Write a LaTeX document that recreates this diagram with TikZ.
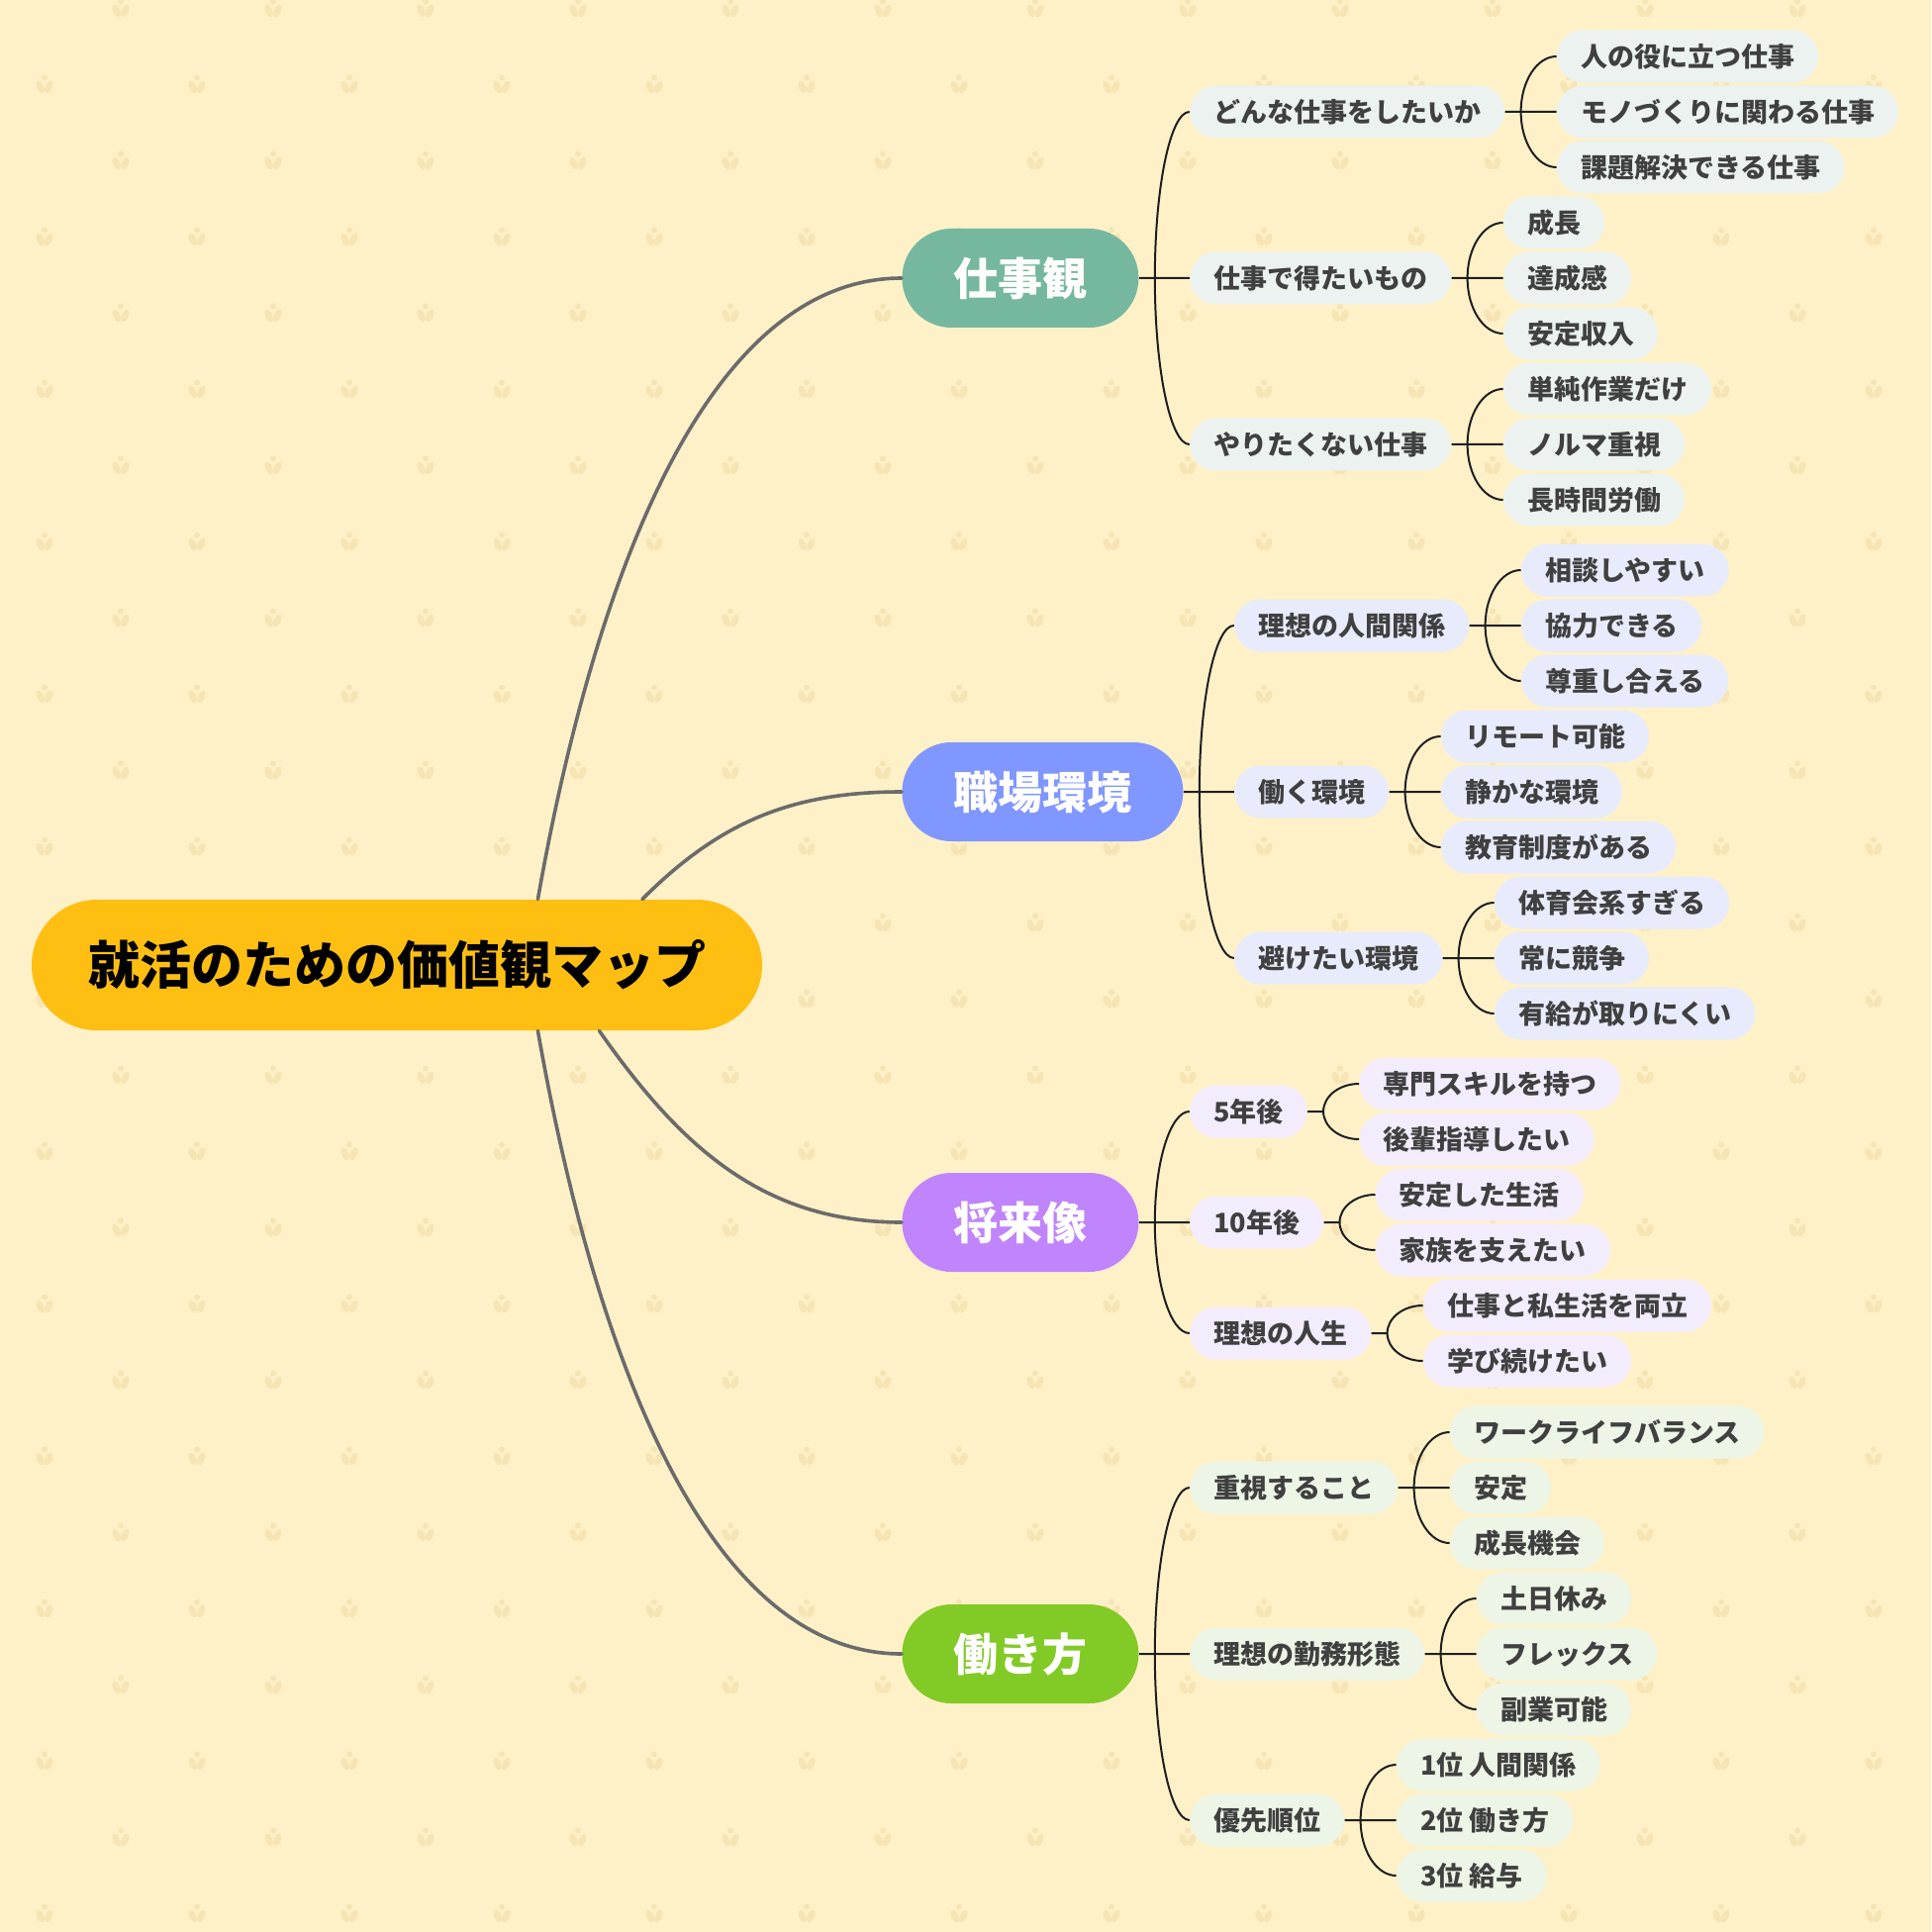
\documentclass[tikz,border=0pt]{standalone}
\usepackage{fontspec}
\setmainfont{Noto Sans CJK JP}
\usetikzlibrary{positioning,calc}

\definecolor{paper}{HTML}{FEF1C8}
\definecolor{tulipcol}{HTML}{F7E4B4}
\definecolor{rootfill}{HTML}{FFBF12}
\definecolor{jobfill}{HTML}{76B89F}
\definecolor{placefill}{HTML}{8097FF}
\definecolor{futurefill}{HTML}{C084FC}
\definecolor{wayfill}{HTML}{82CA26}
\definecolor{jobleaf}{HTML}{EBF2EF}
\definecolor{placeleaf}{HTML}{E8EBFB}
\definecolor{futureleaf}{HTML}{F3ECFD}
\definecolor{wayleaf}{HTML}{EDF5E6}
\definecolor{itemtext}{HTML}{404040}
\definecolor{trunkgray}{HTML}{6B6B6B}
\definecolor{twigblack}{HTML}{1E1E1E}

\begin{document}
\begin{tikzpicture}[
  x=0.5pt, y=-0.5pt,
  node distance=26pt,
  root/.style={
    fill=rootfill,
    rounded corners=33pt,
    minimum height=66pt,
    inner xsep=28.5pt, inner ysep=0pt,
    text=black,
    text height=22.9pt, text depth=3.1pt,
    font=\bfseries\fontsize{26}{30}\selectfont
  },
  topic/.style={
    rounded corners=25pt,
    minimum height=50pt,
    inner xsep=26pt, inner ysep=0pt,
    text=white,
    text height=19.8pt, text depth=2.7pt,
    font=\bfseries\fontsize{22.5}{26}\selectfont,
    anchor=west
  },
  item/.style={
    rounded corners=13.25pt,
    minimum height=26.5pt,
    inner xsep=12pt, inner ysep=0pt,
    text=itemtext,
    text height=11.9pt, text depth=1.6pt,
    font=\bfseries\fontsize{13.5}{16}\selectfont
  },
  trunk/.style={draw=trunkgray, line width=1.8pt, line cap=round},
  twig/.style={draw=twigblack, line width=1pt},
  fork/.style={to path={.. controls ($(\tikztostart)!0.55!(\tikztostart|-\tikztotarget)$)
    and ($(\tikztotarget)!0.55!(\tikztostart|-\tikztotarget)$) .. (\tikztotarget)}},
  tulip/.pic={
    \fill[tulipcol] (0,-6.5) circle (1.5pt);
    \fill[tulipcol, rotate around={24:(-4.3,3)}] (-4.3,3) ellipse (1.75pt and 3.3pt);
    \fill[tulipcol, rotate around={-24:(4.3,3)}] (4.3,3) ellipse (1.75pt and 3.3pt);
  }
]

% paper and tulip pattern
\useasboundingbox (0,0) rectangle (1951,1952);
\fill[paper] (0,0) rectangle (1951,1952);
\begin{scope}
  \clip (0,0) rectangle (1951,1952);
  \foreach \yy in {8,162,...,1900}
    \foreach \xx in {-32,122,...,1970}
      \pic at (\xx,\yy) {tulip};
  \foreach \yy in {85,239,...,1940}
    \foreach \xx in {45,199,...,1900}
      \pic at (\xx,\yy) {tulip};
\end{scope}

\node[root] (map) at (401,975) {就活のための価値観マップ};

\node[topic, fill=jobfill] (job) at (911,281) {仕事観};
\node[topic, fill=placefill] (place) at (911,800) {職場環境};
\node[topic, fill=futurefill] (future) at (911,1235) {将来像};
\node[topic, fill=wayfill] (way) at (911,1671) {働き方};

% 仕事観
\node[item, fill=jobleaf, right=25.5pt of job, yshift=84pt] (job1) {どんな仕事をしたいか};
\node[item, fill=jobleaf, right=25.5pt of job] (job2) {仕事で得たいもの};
\node[item, fill=jobleaf, right=25.5pt of job, yshift=-84pt] (job3) {やりたくない仕事};

\node[item, fill=jobleaf, right=of job1, yshift=28pt] (job1a) {人の役に立つ仕事};
\node[item, fill=jobleaf, right=of job1] (job1b) {モノづくりに関わる仕事};
\node[item, fill=jobleaf, right=of job1, yshift=-28pt] (job1c) {課題解決できる仕事};
\node[item, fill=jobleaf, right=of job2, yshift=28pt] (job2a) {成長};
\node[item, fill=jobleaf, right=of job2] (job2b) {達成感};
\node[item, fill=jobleaf, right=of job2, yshift=-28pt] (job2c) {安定収入};
\node[item, fill=jobleaf, right=of job3, yshift=28pt] (job3a) {単純作業だけ};
\node[item, fill=jobleaf, right=of job3] (job3b) {ノルマ重視};
\node[item, fill=jobleaf, right=of job3, yshift=-28pt] (job3c) {長時間労働};

% 職場環境
\node[item, fill=placeleaf, right=25.5pt of place, yshift=84pt] (place1) {理想の人間関係};
\node[item, fill=placeleaf, right=25.5pt of place] (place2) {働く環境};
\node[item, fill=placeleaf, right=25.5pt of place, yshift=-84pt] (place3) {避けたい環境};

\node[item, fill=placeleaf, right=of place1, yshift=28pt] (place1a) {相談しやすい};
\node[item, fill=placeleaf, right=of place1] (place1b) {協力できる};
\node[item, fill=placeleaf, right=of place1, yshift=-28pt] (place1c) {尊重し合える};
\node[item, fill=placeleaf, right=of place2, yshift=28pt] (place2a) {リモート可能};
\node[item, fill=placeleaf, right=of place2] (place2b) {静かな環境};
\node[item, fill=placeleaf, right=of place2, yshift=-28pt] (place2c) {教育制度がある};
\node[item, fill=placeleaf, right=of place3, yshift=28pt] (place3a) {体育会系すぎる};
\node[item, fill=placeleaf, right=of place3] (place3b) {常に競争};
\node[item, fill=placeleaf, right=of place3, yshift=-28pt] (place3c) {有給が取りにくい};

% 将来像
\node[item, fill=futureleaf, right=25.5pt of future, yshift=56pt] (future1) {5年後};
\node[item, fill=futureleaf, right=25.5pt of future] (future2) {10年後};
\node[item, fill=futureleaf, right=25.5pt of future, yshift=-56pt] (future3) {理想の人生};

\node[item, fill=futureleaf, right=of future1, yshift=14pt] (future1a) {専門スキルを持つ};
\node[item, fill=futureleaf, right=of future1, yshift=-14pt] (future1b) {後輩指導したい};
\node[item, fill=futureleaf, right=of future2, yshift=14pt] (future2a) {安定した生活};
\node[item, fill=futureleaf, right=of future2, yshift=-14pt] (future2b) {家族を支えたい};
\node[item, fill=futureleaf, right=of future3, yshift=14pt] (future3a) {仕事と私生活を両立};
\node[item, fill=futureleaf, right=of future3, yshift=-14pt] (future3b) {学び続けたい};

% 働き方
\node[item, fill=wayleaf, right=25.5pt of way, yshift=84pt] (way1) {重視すること};
\node[item, fill=wayleaf, right=25.5pt of way] (way2) {理想の勤務形態};
\node[item, fill=wayleaf, right=25.5pt of way, yshift=-84pt] (way3) {優先順位};

\node[item, fill=wayleaf, right=of way1, yshift=28pt] (way1a) {ワークライフバランス};
\node[item, fill=wayleaf, right=of way1] (way1b) {安定};
\node[item, fill=wayleaf, right=of way1, yshift=-28pt] (way1c) {成長機会};
\node[item, fill=wayleaf, right=of way2, yshift=28pt] (way2a) {土日休み};
\node[item, fill=wayleaf, right=of way2] (way2b) {フレックス};
\node[item, fill=wayleaf, right=of way2, yshift=-28pt] (way2c) {副業可能};
\node[item, fill=wayleaf, right=of way3, yshift=28pt] (way3a) {1位 人間関係};
\node[item, fill=wayleaf, right=of way3] (way3b) {2位 働き方};
\node[item, fill=wayleaf, right=of way3, yshift=-28pt] (way3c) {3位 給与};

% root to topics
\draw[trunk] (map.25) to[out=80, in=180, looseness=0.8] (job.west);
\draw[trunk] (map.15) to[out=45, in=180] (place.west);
\draw[trunk] (map.-18.5) to[out=-55, in=180] (future.west);
\draw[trunk] (map.-25) to[out=-80, in=180, looseness=0.8] (way.west);

% forks
\foreach \p in {job,place,future,way,job1,job2,job3,place1,place2,place3,future1,future2,future3,way1,way2,way3}
  \coordinate (\p k) at ([xshift=8pt]\p.east);

\draw[twig] (job.east) -- (jobk) to[fork] (job1.west) (jobk) to[fork] (job2.west) (jobk) to[fork] (job3.west);
\draw[twig] (place.east) -- (placek) to[fork] (place1.west) (placek) to[fork] (place2.west) (placek) to[fork] (place3.west);
\draw[twig] (future.east) -- (futurek) to[fork] (future1.west) (futurek) to[fork] (future2.west) (futurek) to[fork] (future3.west);
\draw[twig] (way.east) -- (wayk) to[fork] (way1.west) (wayk) to[fork] (way2.west) (wayk) to[fork] (way3.west);

\draw[twig] (job1.east) -- (job1k) to[fork] (job1a.west) (job1k) to[fork] (job1b.west) (job1k) to[fork] (job1c.west);
\draw[twig] (job2.east) -- (job2k) to[fork] (job2a.west) (job2k) to[fork] (job2b.west) (job2k) to[fork] (job2c.west);
\draw[twig] (job3.east) -- (job3k) to[fork] (job3a.west) (job3k) to[fork] (job3b.west) (job3k) to[fork] (job3c.west);
\draw[twig] (place1.east) -- (place1k) to[fork] (place1a.west) (place1k) to[fork] (place1b.west) (place1k) to[fork] (place1c.west);
\draw[twig] (place2.east) -- (place2k) to[fork] (place2a.west) (place2k) to[fork] (place2b.west) (place2k) to[fork] (place2c.west);
\draw[twig] (place3.east) -- (place3k) to[fork] (place3a.west) (place3k) to[fork] (place3b.west) (place3k) to[fork] (place3c.west);
\draw[twig] (future1.east) -- (future1k) to[fork] (future1a.west) (future1k) to[fork] (future1b.west);
\draw[twig] (future2.east) -- (future2k) to[fork] (future2a.west) (future2k) to[fork] (future2b.west);
\draw[twig] (future3.east) -- (future3k) to[fork] (future3a.west) (future3k) to[fork] (future3b.west);
\draw[twig] (way1.east) -- (way1k) to[fork] (way1a.west) (way1k) to[fork] (way1b.west) (way1k) to[fork] (way1c.west);
\draw[twig] (way2.east) -- (way2k) to[fork] (way2a.west) (way2k) to[fork] (way2b.west) (way2k) to[fork] (way2c.west);
\draw[twig] (way3.east) -- (way3k) to[fork] (way3a.west) (way3k) to[fork] (way3b.west) (way3k) to[fork] (way3c.west);

\end{tikzpicture}
\end{document}
